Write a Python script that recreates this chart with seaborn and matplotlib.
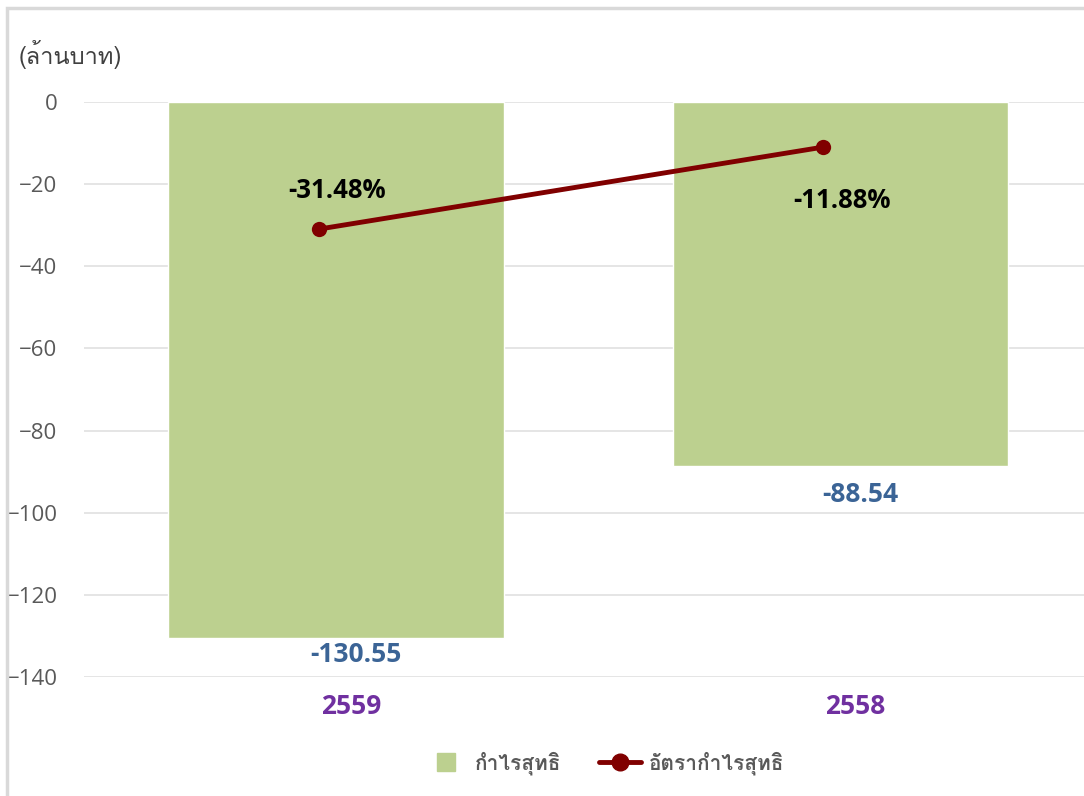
import matplotlib
matplotlib.use("Agg")
import matplotlib.pyplot as plt
from matplotlib import font_manager as fm
from matplotlib.ft2font import FT2Font
from matplotlib.lines import Line2D
from matplotlib.patches import Rectangle
import pandas as pd
import seaborn as sns

# data
years = ["2559", "2558"]
net_profit = [-130.55, -88.54]
profit_rate = [-31.48, -11.88]
bar_name = "กำไรสุทธิ"
line_name = "อัตรากำไรสุทธิ"
unit_label = "(ล้านบาท)"

# find a font that has thai glyphs
thai_fonts = []
for f in fm.fontManager.ttflist:
    try:
        if FT2Font(f.fname).get_char_index(0x0E01) and f.name not in thai_fonts:
            thai_fonts.append(f.name)
    except Exception:
        pass

sns.set_theme(style="white")
plt.rcParams['font.family'] = ['Open Sans', 'DejaVu Sans']
thai_family = thai_fonts[:1] + ['DejaVu Sans']

df = pd.DataFrame({"year": years, "profit": net_profit, "rate": profit_rate})

fig = plt.figure(figsize=(10.84, 7.96), dpi=100)
ax = fig.add_axes([0.0775, 0.1495, 0.930, 0.7224])

sns.barplot(data=df, x="year", y="profit", color="#BCD08F", saturation=1,
            width=0.665, ax=ax, zorder=2)
ax.set_ylim(-140, 0)
ax.set_yticks(range(-140, 1, 20))
ax.yaxis.grid(True, color="#E3E3E3", lw=1.3)
ax.set_axisbelow(True)
for s in ax.spines.values():
    s.set_visible(False)
ax.tick_params(axis="y", length=0, labelsize=16, labelcolor="#595959", pad=19)
ax.tick_params(axis="x", length=0, labelsize=0)
ax.set_xticklabels([])
ax.set_xlabel("")
ax.set_ylabel("")

# value labels under the bars
val_offs = [-4, -7.1]
for i, v in enumerate(net_profit):
    ax.text(i + 0.04, v + val_offs[i], f"{v:.2f}", ha="center", va="center",
            fontsize=19, fontweight="bold", color="#3B6496")
    ax.text(i + 0.03, -147.2, years[i], ha="center", va="center",
            fontsize=19, fontweight="bold", color="#7030A0", clip_on=False)

# secondary axes for the rate line
ax2 = fig.add_axes(ax.get_position(), frameon=False)
sns.lineplot(x=[0, 1], y=profit_rate, ax=ax2, color="#800000", lw=3.5,
             marker="o", markersize=11, markeredgewidth=0, zorder=5)
ax2.set_xlim(-0.467, 1.533)
ax2.set_ylim(-138.6, -1.1)
ax2.set_xticks([])
ax2.set_yticks([])
rate_offs = [9.1, -12.9]
for i, v in enumerate(profit_rate):
    ax2.text(i + 0.036, v + rate_offs[i], f"{v:.2f}%", ha="center", va="center",
             fontsize=18.5, fontweight="bold", color="black")

fig.text(0.017, 0.932, unit_label, fontsize=17, color="#404040",
         family=thai_family, ha="left", va="center")

handles = [
    Line2D([], [], ls="none", marker="s", markersize=13, color="#BCD08F"),
    Line2D([], [], color="#800000", lw=3.5, marker="o", markersize=12),
]
fig.legend(handles, [bar_name, line_name], loc="center", ncol=2,
           bbox_to_anchor=(0.558, 0.041), frameon=False, handlelength=2.0,
           handletextpad=0.4, columnspacing=1.8,
           prop={"family": thai_family, "size": 15, "weight": "bold"},
           labelcolor="#595959")

fig.patches.append(Rectangle((0.0065, -0.1), 1.2, 1.09, transform=fig.transFigure,
                             fill=False, edgecolor="#D9D9D9", lw=2.5, zorder=10))

fig.savefig("out.png", dpi=100)
